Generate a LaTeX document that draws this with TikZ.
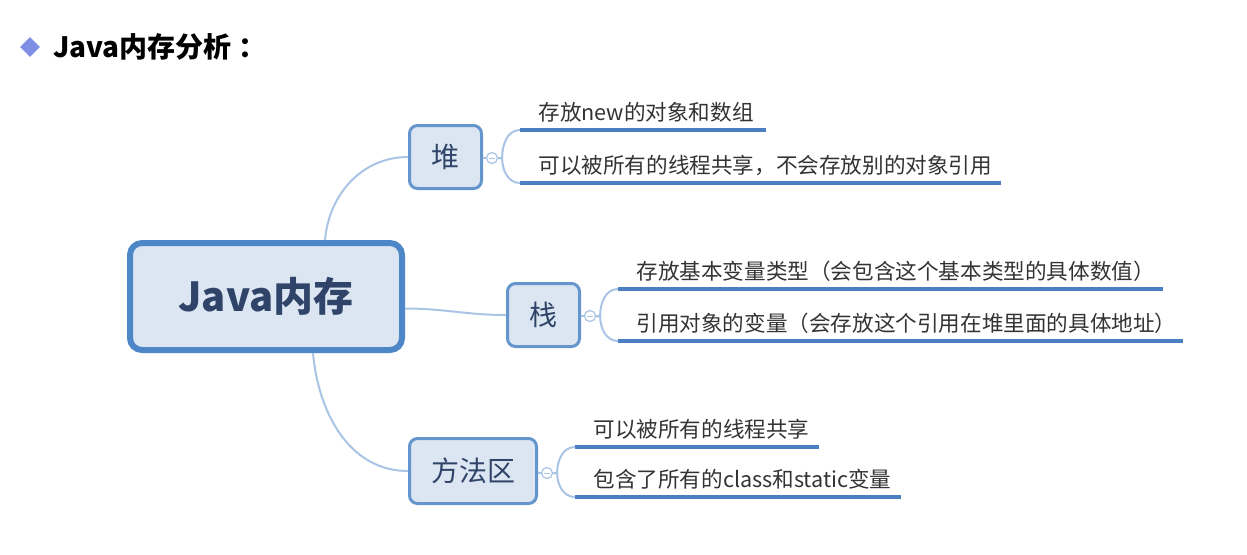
\documentclass[tikz,border=0pt]{standalone}
\usepackage{fontspec}
\usepackage{tikz}
\usepackage{xcolor}
\usetikzlibrary{shapes.geometric}
\setmainfont{Noto Sans CJK SC}
\hyphenpenalty=10000
\exhyphenpenalty=10000

\definecolor{rootblue}{HTML}{4D87C7}
\definecolor{topicblue}{HTML}{6495CD}
\definecolor{boxfill}{HTML}{DCE6F2}
\definecolor{linkblue}{HTML}{A9C4E4}
\definecolor{ulineblue}{HTML}{4A7FC1}
\definecolor{nodetext}{HTML}{2F4468}
\definecolor{textgray}{HTML}{333333}
\definecolor{markblue}{HTML}{7F8FE6}

\begin{document}
\begin{tikzpicture}[x=0.5pt, y=-0.5pt,
  every node/.style={font=\fontsize{10.8pt}{13pt}\selectfont, text=textgray},
  root/.style={draw=rootblue, line width=3pt, fill=boxfill, rounded corners=6pt,
    minimum width=136pt, minimum height=53.5pt, text=nodetext,
    font=\fontsize{20pt}{24pt}\selectfont\bfseries},
  topic/.style={draw=topicblue, line width=1.5pt, fill=boxfill, rounded corners=4pt,
    minimum width=36pt, minimum height=31.5pt, text=nodetext,
    font=\fontsize{14pt}{17pt}\selectfont},
  leaf/.style={anchor=south west, inner xsep=9pt, inner ysep=3.5pt, text width=#1, align=left},
  fold/.style={circle, draw=linkblue, fill=white, line width=0.6pt, minimum size=5.5pt, inner sep=0pt,
    path picture={\draw[linkblue, line width=0.5pt]
      ([xshift=-1.3pt]path picture bounding box.center) -- ([xshift=1.3pt]path picture bounding box.center);}},
  link/.style={draw=linkblue, line width=1pt},
  uline/.style={draw=ulineblue, line width=2pt},
  titlemark/.style={diamond, aspect=1, fill=markblue, minimum size=10pt, inner sep=0pt}
]
\useasboundingbox (0,0) rectangle (1247,554);

% Title
\node[titlemark] (dot) at (30,47) {};
\node[anchor=west, text=black, font=\fontsize{14pt}{17pt}\selectfont\bfseries] (title) at (46,47) {Java内存分析 ：};

% Central topic
\node[root] (root) at (266,296.5) {Java内存};

% Main branches
\node[topic] (heap) at (445.5,157) {堆};
\node[topic] (stack) at (543.5,315) {栈};
\node[topic, minimum width=63.5pt, minimum height=32.5pt] (method) at (473,471) {方法区};

\draw[link] ([xshift=29.5pt]root.north) to[out=85,in=180] (heap.west);
\draw[link] ([yshift=-6pt]root.east) to[out=0,in=180] (stack.west);
\draw[link] ([xshift=23.5pt]root.south) to[out=-85,in=180] (method.west);

% Fold markers
\node[fold] (hf) at (492,158) {};
\node[fold] (sf) at (590,316) {};
\node[fold] (mf) at (547,473) {};
\draw[link] (heap) -- (hf);
\draw[link] (stack) -- (sf);
\draw[link] (method) -- (mf);

% Heap details
\node[leaf=104.5pt] (h1) at (520,130) {存放new的对象和数组};
\node[leaf=222pt] (h2) at (520,183) {可以被所有的线程共享，不会存放别的对象引用};
\draw[uline] (h1.south west) -- (h1.south east);
\draw[uline] (h2.south west) -- (h2.south east);
\draw[link] (hf.east) -- ++(4,0) to[out=90,in=180] (h1.south west);
\draw[link] (hf.east) -- ++(4,0) to[out=-90,in=180] (h2.south west);

% Stack details
\node[leaf=254pt] (s1) at (618,289) {存放基本变量类型（会包含这个基本类型的具体数值）};
\node[leaf=264pt] (s2) at (618,341) {引用对象的变量（会存放这个引用在堆里面的具体地址）};
\draw[uline] (s1.south west) -- (s1.south east);
\draw[uline] (s2.south west) -- (s2.south east);
\draw[link] (sf.east) -- ++(4,0) to[out=90,in=180] (s1.south west);
\draw[link] (sf.east) -- ++(4,0) to[out=-90,in=180] (s2.south west);

% Method area details
\node[leaf=103.5pt] (m1) at (575,447) {可以被所有的线程共享};
\node[leaf=144.5pt] (m2) at (575,497) {包含了所有的class和static变量};
\draw[uline] (m1.south west) -- (m1.south east);
\draw[uline] (m2.south west) -- (m2.south east);
\draw[link] (mf.east) -- ++(4,0) to[out=90,in=180] (m1.south west);
\draw[link] (mf.east) -- ++(4,0) to[out=-90,in=180] (m2.south west);

\end{tikzpicture}
\end{document}
